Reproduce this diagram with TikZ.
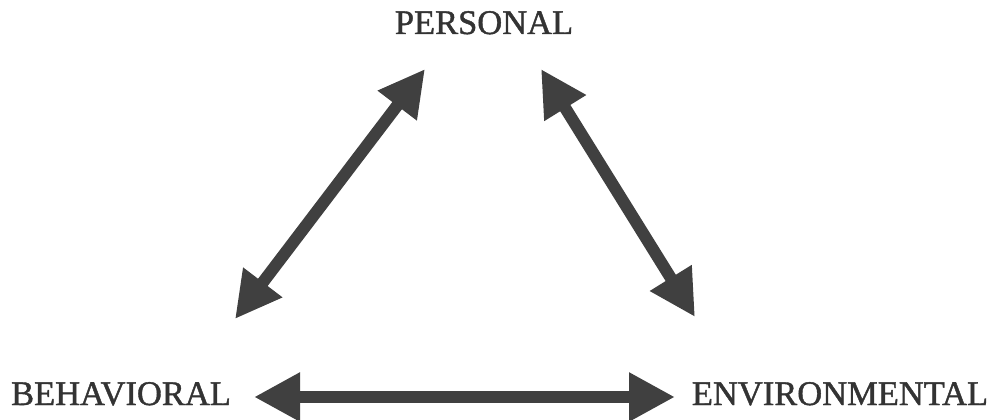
\documentclass[tikz,border=0pt]{standalone}
\usepackage{fontspec}
\setmainfont{Liberation Serif}
\newfontfamily\labelfont[FakeBold=1.2]{Liberation Serif}
\usetikzlibrary{arrows.meta}
\begin{document}
\begin{tikzpicture}[x=1pt,y=-1pt,
  label/.style={inner sep=0pt, anchor=base, font=\labelfont\fontsize{34.5}{34.5}\selectfont, text=black!80},
  bigarrow/.style={draw=black!75, line width=12pt,
    {Triangle[length=46pt,width=46pt]}-{Triangle[length=46pt,width=46pt]}}]
\useasboundingbox (0,0) rectangle (989,420);
\node[label] (personal) at (484,34) {PERSONAL};
\node[label] (behavioral) at (121,405) {BEHAVIORAL};
\node[label] (environmental) at (840,405) {ENVIRONMENTAL};
\coordinate (l1) at (425,69);
\coordinate (l2) at (235,319);
\coordinate (r1) at (541,69);
\coordinate (r2) at (695,317);
\coordinate (h1) at (254,397);
\coordinate (h2) at (675,397);
\draw[bigarrow] (l2) -- (l1);
\draw[bigarrow] (r1) -- (r2);
\draw[bigarrow] (h1) -- (h2);
\end{tikzpicture}
\end{document}
